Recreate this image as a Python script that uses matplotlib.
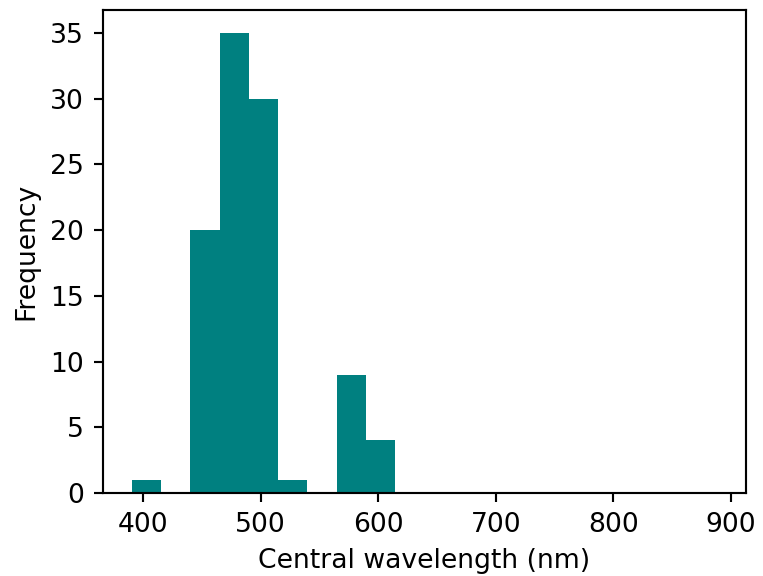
from matplotlib import pyplot as plt
import numpy as np

# histogram: 20 bins between ~390.5 and ~887.8 nm
bin_lo = 390.5
bin_hi = 887.8
counts = [1, 0, 20, 35, 30, 1, 0, 9, 4, 0, 0, 0, 0, 0, 0, 0, 0, 0, 0, 0]

edges = np.linspace(bin_lo, bin_hi, len(counts) + 1)
centers = (edges[:-1] + edges[1:]) / 2

dpi = 192
fig = plt.figure(figsize=(763 / dpi, 576 / dpi), dpi=dpi)
ax = fig.add_axes([0.1346, 0.144, 0.9773 - 0.1346, 0.9826 - 0.144])

ax.hist(centers, bins=edges, weights=counts, color='teal')
ax.set_xlabel('Central wavelength (nm)')
ax.set_ylabel('Frequency')

fig.savefig('out.png', dpi=dpi)
